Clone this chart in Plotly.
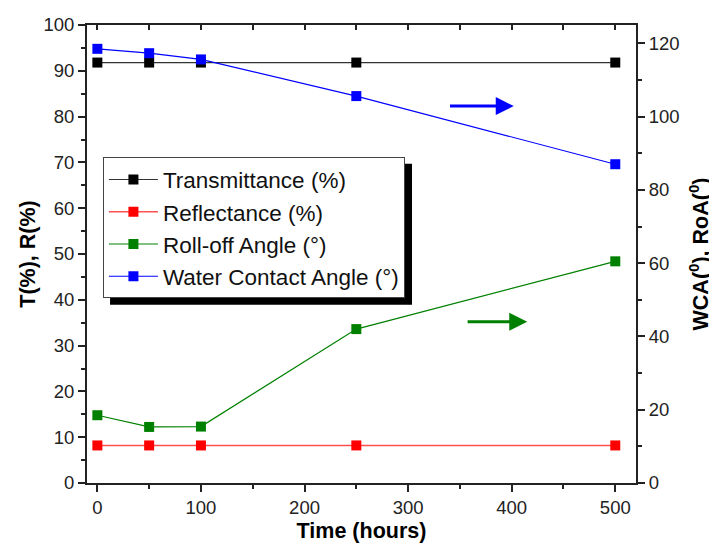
import plotly.graph_objects as go

time_h = [0, 50, 100, 250, 500]
transmittance = [91.8, 91.8, 91.8, 91.8, 91.8]
reflectance = [8.2, 8.2, 8.2, 8.2, 8.2]
roll_off = [18.5, 15.3, 15.4, 42.0, 60.5]          # right axis (degrees)
wca = [118.5, 117.3, 115.6, 105.6, 87.0]           # right axis (degrees)

FONT = "Liberation Sans, Arial, sans-serif"

fig = go.Figure()
mk = dict(symbol="square", size=10)
fig.add_trace(go.Scatter(x=time_h, y=transmittance, mode="lines+markers", name="Transmittance (%)",
                         line=dict(color="#333", width=1.2), marker=dict(color="black", **mk)))
fig.add_trace(go.Scatter(x=time_h, y=reflectance, mode="lines+markers", name="Reflectance (%)",
                         line=dict(color="#ff5050", width=1.5), marker=dict(color="red", **mk)))
fig.add_trace(go.Scatter(x=time_h, y=roll_off, mode="lines+markers", name="Roll-off Angle (°)",
                         line=dict(color="green", width=1.2), marker=dict(color="green", **mk), yaxis="y2"))
fig.add_trace(go.Scatter(x=time_h, y=wca, mode="lines+markers", name="Water Contact Angle (°)",
                         line=dict(color="blue", width=1.2), marker=dict(color="blue", **mk), yaxis="y2"))
# invisible trace for top axis
fig.add_trace(go.Scatter(x=[0], y=[0], xaxis="x2", yaxis="y", mode="markers",
                         marker=dict(opacity=0), showlegend=False, hoverinfo="skip"))

tickfont = dict(family=FONT, size=18.5, color="#222")
titlefont = dict(family=FONT, size=21.5, color="black")

# page body has an 8px margin, so the figure is 8px smaller and margins shifted
fig.update_layout(
    width=709, height=535,
    margin=dict(l=79, r=81, t=17, b=60, autoexpand=False),
    paper_bgcolor="white", plot_bgcolor="white",
    showlegend=True,
    legend=dict(x=0.029, y=0.711, xanchor="left", yanchor="top",
                bgcolor="white", bordercolor="#444", borderwidth=1,
                font=dict(family=FONT, size=22.5, color="#111"),
                tracegroupgap=0, itemwidth=49),
    xaxis=dict(range=[-10, 520], tickvals=[0, 100, 200, 300, 400, 500], automargin=False,
               ticks="outside", ticklen=7, tickwidth=1.5, tickcolor="#222",
               minor=dict(tickvals=[50, 150, 250, 350, 450], ticks="outside", ticklen=4, tickwidth=1.5, tickcolor="#222"),
               showline=True, linecolor="#222", linewidth=2, showgrid=False, zeroline=False,
               tickfont=tickfont,
               title=dict(text="<b>Time (hours)</b>", font=titlefont, standoff=10)),
    xaxis2=dict(range=[-10, 520], overlaying="x", side="top", automargin=False,
                tickvals=[0, 50, 100, 150, 200, 250, 300, 350, 400, 450, 500],
                ticks="inside", ticklen=5, tickwidth=1.5, tickcolor="#222",
                showticklabels=False, showline=True, linecolor="#222", linewidth=2,
                showgrid=False, zeroline=False),
    yaxis=dict(range=[0, 100], tickvals=list(range(0, 101, 10)), automargin=False,
               ticks="outside", ticklen=7, tickwidth=1.5, tickcolor="#222",
               minor=dict(tickvals=list(range(5, 100, 10)), ticks="outside", ticklen=4, tickwidth=1.5, tickcolor="#222"),
               showline=True, linecolor="#222", linewidth=2, showgrid=False, zeroline=False,
               tickfont=tickfont,
               title=dict(text="<b>T(%), R(%)</b>", font=titlefont, standoff=2)),
    yaxis2=dict(range=[0, 125], overlaying="y", side="right", tickvals=list(range(0, 121, 20)), automargin=False,
                ticks="outside", ticklen=7, tickwidth=1.5, tickcolor="#222",
                minor=dict(tickvals=list(range(10, 125, 20)), ticks="outside", ticklen=4, tickwidth=1.5, tickcolor="#222"),
                showline=True, linecolor="#222", linewidth=2, showgrid=False, zeroline=False,
                tickfont=tickfont,
                title=dict(text="<b>WCA(<sup>0</sup>), RoA(<sup>0</sup>)</b>", font=titlefont, standoff=14)),
)

# legend shadow
fig.add_shape(type="rect", xref="paper", yref="paper", x0=0.042, x1=0.592, y0=0.389, y1=0.697,
              fillcolor="black", line=dict(width=0), layer="below")

# arrows pointing to the right axis
arrow_specs = [
    dict(tail=339, head=402, y=82.3, color="blue"),
    dict(tail=356, head=415, y=35.2, color="green"),
]
for a in arrow_specs:
    fig.add_annotation(x=a["head"], y=a["y"], ax=a["tail"], ay=a["y"], xref="x", yref="y",
                       axref="x", ayref="y", text="", showarrow=True, arrowhead=2,
                       arrowsize=1.2, arrowwidth=3, arrowcolor=a["color"])

fig.write_html("out.html")
